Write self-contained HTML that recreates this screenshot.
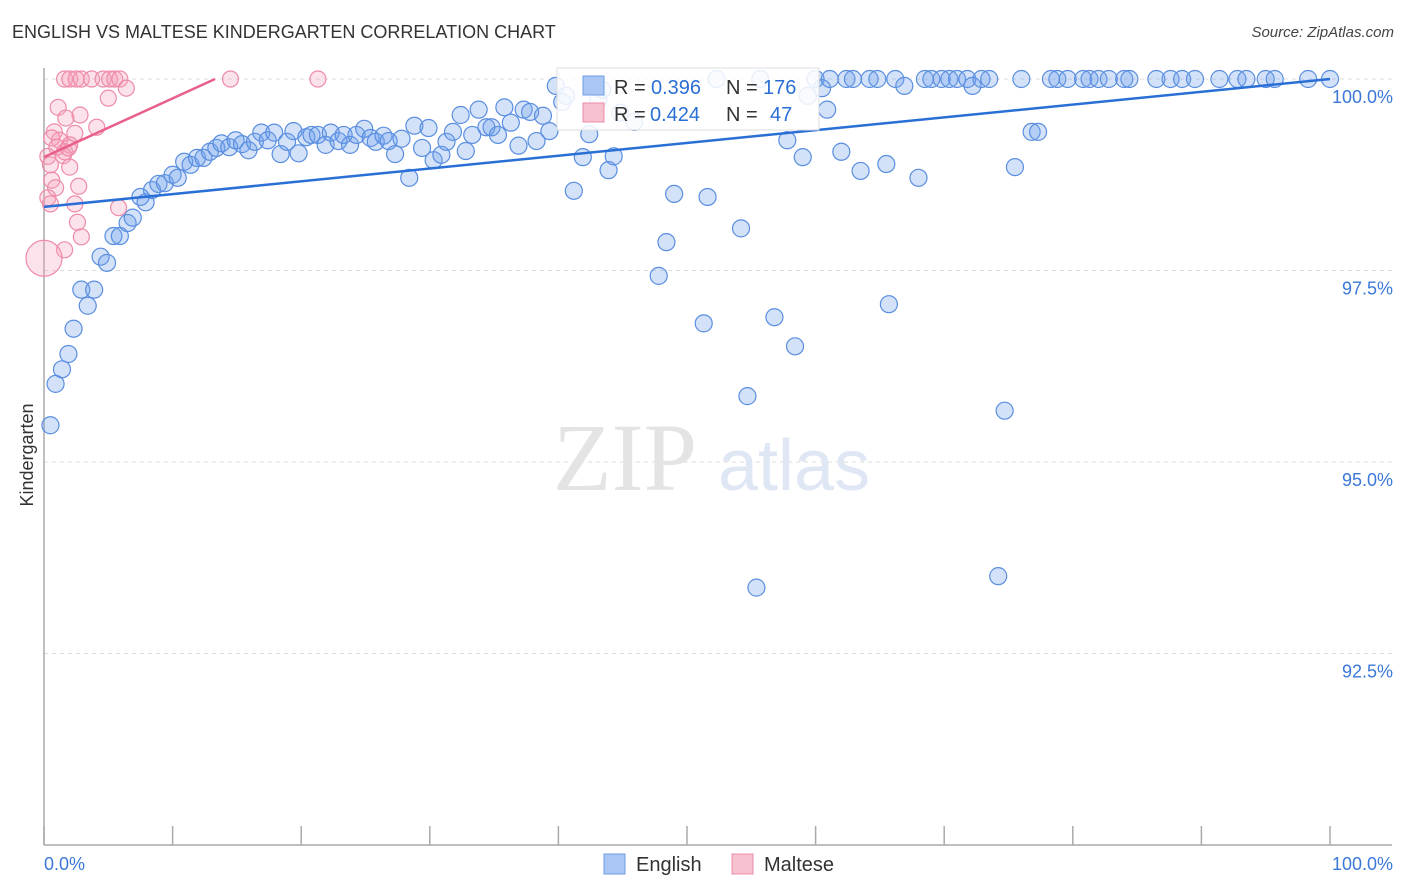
<!DOCTYPE html>
<html><head><meta charset="utf-8"><style>
body{margin:0;background:#fff;font-family:"Liberation Sans",sans-serif;}
#wrap{position:relative;width:1406px;height:892px;overflow:hidden;}
.t{position:absolute;white-space:nowrap;}
</style></head><body>
<div id="wrap">
<div class="t" style="left:12px;top:22px;font-size:18px;color:#333;">ENGLISH VS MALTESE KINDERGARTEN CORRELATION CHART</div>
<div class="t" style="right:12px;top:24px;font-size:15px;color:#444;font-style:italic;">Source: ZipAtlas.com</div>
<svg id="svg" width="1406" height="892" style="position:absolute;left:0;top:0"></svg>
</div>
<script>
const yTicks=[100,97.5,95,92.5];
const yTickLabels=["100.0%","97.5%","95.0%","92.5%"];
const xTickLabels=["0.0%","100.0%"];
const engX=[0.5,0.9,1.4,1.9,2.3,2.9,3.4,3.9,4.4,4.9,5.4,5.9,6.5,6.9,7.5,7.9,8.4,8.9,9.4,10.0,10.4,10.9,11.4,11.9,12.4,12.9,13.4,13.8,14.4,14.9,15.4,15.9,16.4,16.9,17.4,17.9,18.4,18.9,19.4,19.8,20.4,20.8,21.3,21.9,22.3,22.9,23.3,23.8,24.3,24.9,25.4,25.8,26.4,26.8,27.3,27.8,28.4,28.8,29.4,29.9,30.3,30.9,31.3,31.8,32.4,32.8,33.3,33.8,34.4,34.8,35.3,35.8,36.3,36.9,37.3,37.8,38.3,38.8,39.3,39.8,40.3,40.6,41.2,41.9,42.4,43.1,43.4,43.9,44.3,44.8,45.9,47.8,48.4,49.0,51.3,51.6,52.3,54.2,54.7,55.4,55.7,56.8,57.8,58.4,59.0,59.4,60.0,60.5,60.9,61.1,62.0,62.4,62.9,63.5,64.2,64.8,65.5,65.7,66.2,66.9,68.0,68.5,69.0,69.8,70.4,71.0,71.8,72.2,72.9,73.5,74.2,74.7,75.5,76.0,76.8,77.3,78.3,78.8,79.6,80.8,81.3,82.0,82.8,84.0,84.4,86.5,87.6,88.5,89.5,91.4,92.8,93.5,95.0,95.7,98.3,100];
const engY=[95.48,96.02,96.21,96.41,96.74,97.25,97.04,97.25,97.68,97.60,97.95,97.95,98.12,98.19,98.46,98.39,98.55,98.63,98.64,98.75,98.71,98.92,98.88,98.97,98.97,99.05,99.10,99.16,99.11,99.20,99.15,99.07,99.18,99.30,99.20,99.30,99.02,99.18,99.32,99.03,99.24,99.27,99.27,99.14,99.30,99.19,99.27,99.14,99.27,99.35,99.23,99.18,99.26,99.19,99.02,99.22,98.71,99.39,99.10,99.36,98.94,99.01,99.18,99.31,99.53,99.06,99.27,99.60,99.37,99.37,99.27,99.63,99.43,99.13,99.60,99.57,99.19,99.52,99.32,99.91,99.70,99.78,98.54,98.98,99.28,99.73,99.86,98.81,98.99,99.56,99.44,97.43,97.87,98.50,96.81,98.46,100,98.05,95.86,93.36,100,96.89,99.20,96.51,98.98,99.78,100,99.88,99.60,100,99.05,100,100,98.80,100,100,98.89,97.06,100,99.91,98.71,100,100,100,100,100,100,99.91,100,100,93.51,95.67,98.85,100,99.31,99.31,100,100,100,100,100,100,100,100,100,100,100,100,100,100,100,100,100,100,100,100];
const malX=[1.6,2.0,2.5,2.9,3.7,4.6,5.1,5.5,5.9,14.5,21.3,5.0,6.4,1.1,2.8,1.7,4.1,0.8,2.4,1.2,2.0,1.6,0.3,0.5,2.0,0.6,2.7,0.9,0.3,0.5,2.4,5.8,2.6,2.9,1.6,0.6,1.0,1.5,1.9];
const malY=[100,100,100,100,100,100,100,100,100,100,100,99.75,99.88,99.63,99.53,99.49,99.37,99.31,99.29,99.20,99.14,99.05,98.99,98.88,98.85,98.68,98.60,98.58,98.45,98.37,98.37,98.32,98.13,97.94,97.77,99.23,99.11,99.0,99.1];
const bigMal={x:0,y:97.66};
const engTrend=[[0,98.33],[100,100]];
const malTrend=[[0,98.98],[13.3,100]];

const X0=44,X1=1330,Y100=79,PXPER=76.6;
const sx=v=>X0+(X1-X0)*v/100;
const sy=v=>Y100+(100-v)*PXPER;
const svg=document.getElementById('svg');
const NS='http://www.w3.org/2000/svg';
function mk(tag,attrs){const e=document.createElementNS(NS,tag);for(const k in attrs)e.setAttribute(k,attrs[k]);svg.appendChild(e);return e;}
// gridlines
yTicks.forEach((v,i)=>{
  const g=mk('line',{x1:44,x2:1392,y1:sy(v),y2:sy(v),stroke:'#ddd','stroke-dasharray':'4,4'});
  
  
  const t=mk('text',{x:1393,y:sy(v)+24,'text-anchor':'end','font-size':18,fill:'#3b78d8','font-family':'Liberation Sans, sans-serif'});
  t.textContent=yTickLabels[i];
  
  
});
// axes
const ya=mk('line',{x1:44,x2:44,y1:68,y2:845,stroke:'#aaa','stroke-width':1.5});


const xa=mk('line',{x1:44,x2:1392,y1:845,y2:845,stroke:'#aaa','stroke-width':1.5});


for(let i=0;i<=10;i++){
  const tk=mk('line',{x1:sx(i*10),x2:sx(i*10),y1:826,y2:845,stroke:'#aaa','stroke-width':1.5});
  
  
}
const xl0=mk('text',{x:44,y:870,'font-size':18,fill:'#3b78d8','font-family':'Liberation Sans, sans-serif'});xl0.textContent=xTickLabels[0];


const xl1=mk('text',{x:1393,y:870,'text-anchor':'end','font-size':18,fill:'#3b78d8','font-family':'Liberation Sans, sans-serif'});xl1.textContent=xTickLabels[1];


const yt=mk('text',{x:33,y:455,'text-anchor':'middle','font-size':18,fill:'#333',transform:'rotate(-90 33 455)','font-family':'Liberation Sans, sans-serif'});yt.textContent='Kindergarten';


// watermark
const wm=mk('text',{x:553,y:490,'font-size':96,fill:'#e4e4e4','font-family':'Liberation Serif, serif'});wm.textContent='ZIP';


const wm2=mk('text',{x:718,y:490,'font-size':72,fill:'#dfe7f5','font-family':'Liberation Sans, sans-serif'});wm2.textContent='atlas';


// points
engX.forEach((x,i)=>{
  const c=mk('circle',{cx:sx(x),cy:sy(engY[i]),r:8.5,fill:'rgba(110,160,235,0.3)',stroke:'#5a8ee0','stroke-width':1.2});
  
  
});
malX.forEach((x,i)=>{
  const c=mk('circle',{cx:sx(x),cy:sy(malY[i]),r:8,fill:'rgba(245,160,185,0.3)',stroke:'#ee8ca8','stroke-width':1.2});
  
  
});
const bm=mk('circle',{cx:sx(bigMal.x),cy:sy(bigMal.y),r:18,fill:'rgba(245,160,185,0.3)',stroke:'#ee8ca8','stroke-width':1.2});


// trends
const et=mk('line',{x1:sx(engTrend[0][0]),y1:sy(engTrend[0][1]),x2:sx(engTrend[1][0]),y2:sy(engTrend[1][1]),stroke:'#2a6fd6','stroke-width':2.5});


const mt=mk('line',{x1:sx(malTrend[0][0]),y1:sy(malTrend[0][1]),x2:sx(malTrend[1][0]),y2:sy(malTrend[1][1]),stroke:'#e8608a','stroke-width':2.5});


// legend box
const lb=mk('rect',{x:557,y:68,width:262,height:62,fill:'rgba(255,255,255,0.85)',stroke:'#ddd'});


const s1=mk('rect',{x:583,y:76,width:21,height:19,fill:'#a9c7f2',stroke:'#6f9de5'});


const s2=mk('rect',{x:583,y:103,width:21,height:19,fill:'#f7c0cf',stroke:'#ee8ca8'});


function txt(x,y,s,fill,name){const t=mk('text',{x:x,y:y,'font-size':20,fill:fill,'font-family':'Liberation Sans, sans-serif'});t.textContent=s;

}
txt(614,94,'R = ','#333','r-label');txt(651,94,'0.396','#2a6fd6','english-r');
txt(726,94,'N = ','#333','n-label');txt(763,94,'176','#2a6fd6','english-n');
txt(614,121,'R = ','#333','r-label');txt(650,121,'0.424','#2a6fd6','maltese-r');
txt(726,121,'N = ','#333','n-label');txt(770,121,'47','#2a6fd6','maltese-n');
// bottom legend
const b1=mk('rect',{x:604,y:854,width:21,height:20,fill:'#a9c7f2',stroke:'#6f9de5'});


txt(636,871,'English','#333','legend-english');
const b2=mk('rect',{x:732,y:854,width:21,height:20,fill:'#f7c0cf',stroke:'#ee8ca8'});


txt(764,871,'Maltese','#333','legend-maltese');
</script>
</body></html>
